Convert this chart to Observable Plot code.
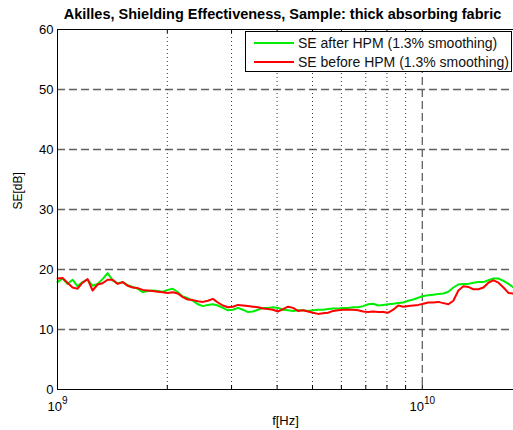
<!DOCTYPE html>
<html>
<head>
<meta charset="utf-8">
<script src="https://cdn.jsdelivr.net/npm/d3@7"></script>
<script src="https://cdn.jsdelivr.net/npm/@observablehq/plot@0.6"></script>
<style>
  html, body { margin: 0; padding: 0; background: #fff; overflow: hidden; }
  #wrap { position: relative; width: 513px; height: 430px; font-family: "Liberation Sans", Arial, sans-serif; }
  #legend { position: absolute; left: 245px; top: 31px; width: 267px; height: 41px; border: 1px solid #000; background: #fff; box-sizing: border-box; font-size: 14px; color: #111; }
  .item { position: absolute; left: 8px; height: 19px; display: flex; align-items: center; }
  .item span.sw { display: inline-block; width: 40px; height: 0; border-top: 2px solid; margin-right: 4px; }
</style>
</head>
<body>
<div id="wrap"></div>
<script>
const titleText = "Akilles, Shielding Effectiveness, Sample: thick absorbing fabric";
const yLabel = "SE[dB]";
const xLabel = "f[Hz]";
const seriesNames = ["SE after HPM (1.3% smoothing)", "SE before HPM (1.3% smoothing)"];
const seriesColors = ["#00ee00", "#ff0000"];

// frequency in GHz
const freqGHz = [1.000,1.032,1.065,1.100,1.135,1.171,1.209,1.248,1.288,1.329,1.372,1.416,1.462,1.509,1.557,1.607,1.659,1.712,1.767,1.824,1.883,1.943,2.006,2.070,2.137,2.205,2.276,2.349,2.425,2.503,2.583,2.666,2.752,2.840,2.932,3.026,3.123,3.223,3.327,3.434,3.544,3.658,3.776,3.897,4.022,4.151,4.285,4.422,4.565,4.711,4.863,5.019,5.180,5.346,5.518,5.695,5.878,6.067,6.262,6.463,6.671,6.885,7.106,7.335,7.570,7.814,8.065,8.324,8.591,8.867,9.152,9.447,9.750,10.063,10.387,10.720,11.065,11.420,11.788,12.166,12.557,12.961,13.377,13.807,14.251,14.709,15.181,15.669,16.173,16.692,17.229,17.783];

const seAfter = [17.9,18.5,17.6,18.3,17.2,17.9,18.3,17.3,17.6,18.4,19.4,18.2,17.7,17.9,17.4,17.1,16.8,16.2,16.4,16.5,16.4,16.3,16.6,16.8,16.2,15.5,15.2,14.8,14.2,13.9,14.1,14.2,14.0,13.6,13.2,13.3,13.6,13.3,12.9,13.0,13.3,13.6,13.6,13.7,13.6,13.3,13.2,13.1,13.2,13.2,13.1,13.2,13.3,13.3,13.4,13.5,13.5,13.6,13.6,13.7,13.7,13.9,14.2,14.3,14.0,14.1,14.2,14.3,14.4,14.5,14.8,15.0,15.3,15.6,15.7,15.8,15.9,16.0,16.3,17.0,17.5,17.6,17.6,17.8,17.9,17.9,18.2,18.5,18.5,18.1,17.6,17.0];

const seBefore = [18.5,18.6,17.8,17.0,16.8,17.8,18.4,16.5,17.5,17.7,18.3,18.3,17.6,17.9,17.3,17.0,16.9,16.6,16.5,16.4,16.3,16.2,16.1,16.2,16.0,15.4,15.0,14.9,14.7,14.6,14.8,15.1,14.5,14.0,13.7,13.8,14.1,14.0,13.9,13.8,13.7,13.5,13.4,13.3,13.0,13.4,13.8,13.6,13.1,13.2,13.0,12.8,12.6,12.7,12.8,13.1,13.2,13.3,13.3,13.3,13.2,13.0,12.9,13.0,12.9,12.9,12.8,13.3,14.0,13.8,13.9,14.0,14.1,14.3,14.5,14.5,14.6,14.4,14.2,14.8,16.5,17.2,17.1,16.7,16.7,17.0,17.8,18.2,17.8,17.0,16.1,16.0];

const yTicks = [0, 10, 20, 30, 40, 50, 60];
const yGrid = [10, 20, 30, 40, 50];
const xMajor = [1, 10];
const xMinor = [2, 3, 4, 5, 6, 7, 8, 9];
const xTickLabels = ["10^9", "10^10"];

const rows = freqGHz.map((f, i) => ({f, after: seAfter[i], before: seBefore[i]}));

const W = 513, H = 430;
const chart = Plot.plot({
  width: W,
  height: H,
  marginLeft: 57,
  marginRight: 0,
  marginTop: 29,
  marginBottom: 41,
  style: {fontFamily: "Liberation Sans, Arial, sans-serif", fontSize: "13px", background: "#fff", color: "#000"},
  x: {type: "log", domain: [1, 17.783]},
  y: {domain: [0, 60]},
  marks: [
    Plot.ruleY(yGrid, {stroke: "#606060", strokeWidth: 1.3, strokeDasharray: "8,4"}),
    Plot.ruleX(xMinor, {stroke: "#333", strokeWidth: 1, strokeDasharray: "1,3"}),
    Plot.ruleX([10], {stroke: "#606060", strokeWidth: 1.3, strokeDasharray: "8,4"}),
    Plot.ruleX(xMinor.concat([10]), {stroke: "#000", insetBottom: 356}),
    Plot.ruleX(xMinor.concat([10]), {stroke: "#000", insetTop: 356}),
    Plot.line(rows, {x: "f", y: "after", stroke: seriesColors[0], strokeWidth: 2}),
    Plot.line(rows, {x: "f", y: "before", stroke: seriesColors[1], strokeWidth: 2}),
    Plot.ruleY([0], {stroke: "#000"}),
    Plot.ruleY([60], {stroke: "#000"}),
    Plot.ruleX([1], {stroke: "#000"}),
    Plot.axisY(yTicks, {tickSize: 0, tickPadding: 4, label: null, fontSize: 13}),
    Plot.axisX(xMajor, {tickSize: 0, tickPadding: 12, label: null, fontSize: 13,
      tickFormat: d => xTickLabels[xMajor.indexOf(d)]}),
    Plot.text([titleText], {text: d => d, frameAnchor: "top", dy: -15, dx: -3, fontWeight: "bold", fontSize: 14.5, lineAnchor: "middle"}),
    Plot.text([yLabel], {text: d => d, frameAnchor: "left", dx: -39, rotate: -90, fontSize: 12, lineAnchor: "middle"}),
    Plot.text([xLabel], {text: d => d, frameAnchor: "bottom", dy: 31, fontSize: 13, lineAnchor: "middle"})
  ]
});

// superscripts on log tick labels
chart.querySelectorAll('[aria-label="x-axis tick label"] text').forEach(t => {
  const s = t.textContent;
  const parts = s.split("^");
  if (parts.length === 2) {
    t.textContent = "";
    const a = document.createElementNS("http://www.w3.org/2000/svg", "tspan");
    a.textContent = parts[0];
    const b = document.createElementNS("http://www.w3.org/2000/svg", "tspan");
    b.textContent = parts[1];
    b.setAttribute("dy", "-7");
    b.setAttribute("font-size", "10");
    t.appendChild(a);
    t.appendChild(b);
  }
});

const wrap = document.getElementById("wrap");
wrap.appendChild(chart);

const legend = document.createElement("div");
legend.id = "legend";
seriesNames.forEach((name, i) => {
  const it = document.createElement("div");
  it.className = "item";
  it.style.top = (i === 0 ? 1 : 20) + "px";
  const sw = document.createElement("span");
  sw.className = "sw";
  sw.style.borderColor = seriesColors[i];
  it.appendChild(sw);
  const tx = document.createElement("span");
  tx.textContent = name;
  it.appendChild(tx);
  legend.appendChild(it);
});
wrap.appendChild(legend);
</script>
</body>
</html>
